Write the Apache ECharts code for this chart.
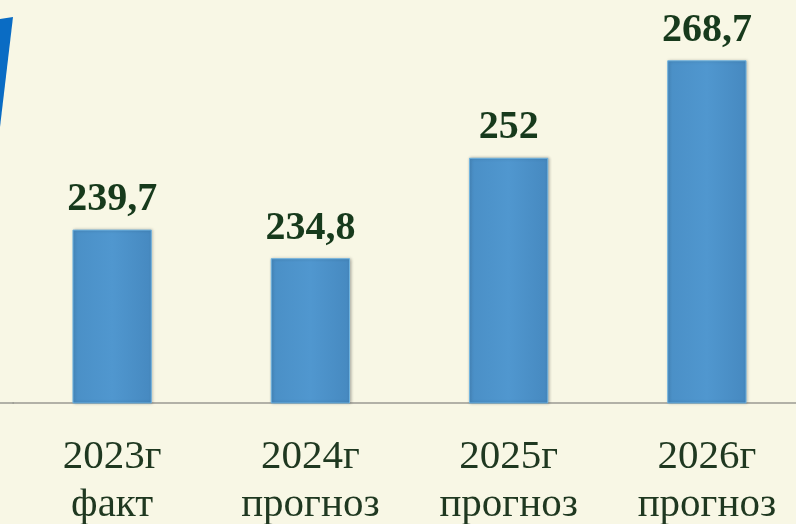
<!DOCTYPE html>
<html>
<head>
<meta charset="utf-8">
<script src="https://cdn.jsdelivr.net/npm/echarts@6/dist/echarts.min.js"></script>
<style>
  html, body { margin: 0; padding: 0; background: #f8f7e5; }
  #chart { width: 796px; height: 524px; }
</style>
</head>
<body>
<div id="chart"></div>
<script>
  // данные
  var years = ['2023г', '2024г', '2025г', '2026г'];
  var kinds = ['факт', 'прогноз', 'прогноз', 'прогноз'];
  var values = [239.7, 234.8, 252, 268.7];
  var valueLabels = ['239,7', '234,8', '252', '268,7'];

  var cats = years.map(function (y, i) { return y + '\n' + kinds[i]; });

  var myChart = echarts.init(document.getElementById('chart'));
  myChart.setOption({
    backgroundColor: '#f8f7e5',
    animation: false,
    grid: { left: 13, width: 793, top: 6, bottom: 121, outerBoundsMode: 'none', containLabel: false },
    xAxis: {
      type: 'category',
      data: cats,
      axisLine: { lineStyle: { color: '#9a9a92', width: 1.5 } },
      axisTick: { show: false },
      axisLabel: {
        margin: 30,
        color: '#1f3820',
        fontFamily: 'Liberation Serif',
        fontSize: 41,
        lineHeight: 48
      }
    },
    yAxis: {
      type: 'value',
      min: 210,
      max: 278,
      show: false,
      splitLine: { show: false }
    },
    series: [{
      type: 'bar',
      data: values,
      barWidth: '40%',
      itemStyle: {
        color: new echarts.graphic.LinearGradient(0, 0, 1, 0, [
          { offset: 0, color: '#4a8fc6' },
          { offset: 0.5, color: '#5097cf' },
          { offset: 1, color: '#4689c0' }
        ]),
        borderColor: '#6fb3e0',
        borderWidth: 1,
        shadowColor: 'rgba(0,0,0,0.25)',
        shadowBlur: 3,
        shadowOffsetX: 1,
        shadowOffsetY: 0
      },
      label: {
        show: true,
        position: 'top',
        distance: 10,
        formatter: function (p) { return valueLabels[p.dataIndex]; },
        color: '#173a1c',
        fontFamily: 'Liberation Serif',
        fontWeight: 'bold',
        fontSize: 40
      }
    }],
    graphic: [{
      type: 'polygon',
      shape: { points: [[0, 19], [13, 17], [0, 127]] },
      style: { fill: '#0a6cc4' }
    }, {
      type: 'line',
      shape: { x1: 0, y1: 403, x2: 14, y2: 403 },
      style: { stroke: '#9a9a92', lineWidth: 1.5 }
    }]
  });
</script>
</body>
</html>
